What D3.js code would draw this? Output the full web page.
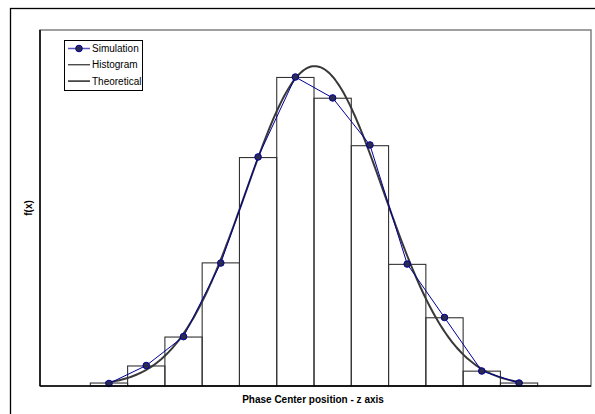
<!DOCTYPE html>
<html>
<head>
<meta charset="utf-8">
<script src="https://cdn.jsdelivr.net/npm/d3@7"></script>
<style>
  body { margin: 0; background: #fff; }
  text { font-family: "Liberation Sans", Arial, sans-serif; }
</style>
</head>
<body>
<div id="chart"></div>
<script>
  // histogram bins (centre of each bin, unit width) and frequencies
  var binCenters = [-5.5, -4.5, -3.5, -2.5, -1.5, -0.5, 0.5, 1.5, 2.5, 3.5, 4.5, 5.5];
  var histValues = [0.002, 0.0135, 0.033, 0.083, 0.154, 0.208, 0.194, 0.162, 0.082, 0.046, 0.010, 0.002];
  var simValues  = [0.0017, 0.0138, 0.0333, 0.0829, 0.1544, 0.2083, 0.1942, 0.1625, 0.0822, 0.0462, 0.0101, 0.0020];
  var theoMean = 0.02, theoSigma = 1.85;
  var legendLabels = ['Simulation', 'Histogram', 'Theoretical'];

  var w = 595, h = 414;
  var margin = {left: 40, top: 30, right: 4, bottom: 28};

  var svg = d3.select('#chart')
    .append('svg')
    .attr('width', w)
    .attr('height', h);

  // outer chart frame (runs off the page on right/bottom)
  svg.append('rect')
    .attr('x', 10.5).attr('y', 8.5)
    .attr('width', 600).attr('height', 420)
    .style('fill', 'none').style('stroke', '#000').style('stroke-width', 1.3);

  var x = d3.scaleLinear().domain([-7.35, 7.43]).range([margin.left, w - margin.right]);
  var y = d3.scaleLinear().domain([0, 0.24]).range([h - margin.bottom, margin.top]);

  // plot area border
  svg.append('rect')
    .attr('x', x.range()[0]).attr('y', y.range()[1])
    .attr('width', x.range()[1] - x.range()[0])
    .attr('height', y.range()[0] - y.range()[1])
    .style('fill', 'none').style('stroke', '#808080').style('stroke-width', 1.5);

  ////////////////////////
  // Histogram
  ////////////////////////
  svg.append('g').selectAll('rect')
    .data(histValues)
    .enter().append('rect')
    .attr('x', function(d, i) { return x(binCenters[i] - 0.5); })
    .attr('y', function(d) { return y(d); })
    .attr('width', function(d, i) { return x(binCenters[i] + 0.5) - x(binCenters[i] - 0.5); })
    .attr('height', function(d) { return y(0) - y(d); })
    .style('fill', 'none')
    .style('stroke', '#333')
    .style('stroke-width', 1.1);

  ////////////////////////
  // Theoretical curve
  ////////////////////////
  var theo = d3.range(-5.6, 5.61, 0.05).map(function(t) {
    var z = (t - theoMean) / theoSigma;
    return [t, Math.exp(-0.5 * z * z) / (theoSigma * Math.sqrt(2 * Math.PI))];
  });
  svg.append('path')
    .datum(theo)
    .attr('d', d3.line().x(function(d) { return x(d[0]); }).y(function(d) { return y(d[1]); }))
    .style('fill', 'none')
    .style('stroke', '#383838')
    .style('stroke-width', 2);

  ////////////////////////
  // Simulation
  ////////////////////////
  svg.append('path')
    .datum(simValues)
    .attr('d', d3.line()
      .x(function(d, i) { return x(binCenters[i]); })
      .y(function(d) { return y(d); }))
    .style('fill', 'none')
    .style('stroke', '#000099')
    .style('stroke-width', 1);

  svg.append('g').selectAll('circle')
    .data(simValues)
    .enter().append('circle')
    .attr('cx', function(d, i) { return x(binCenters[i]); })
    .attr('cy', function(d) { return y(d); })
    .attr('r', 3.3)
    .style('fill', '#2b2b4f')
    .style('stroke', '#000099')
    .style('stroke-width', 1);

  // axes lines
  svg.append('line')
    .attr('x1', x.range()[0]).attr('x2', x.range()[1])
    .attr('y1', y(0)).attr('y2', y(0))
    .style('stroke', '#000').style('stroke-width', 1.5);
  svg.append('line')
    .attr('x1', x.range()[0]).attr('x2', x.range()[0])
    .attr('y1', y.range()[1]).attr('y2', y(0))
    .style('stroke', '#000').style('stroke-width', 1.5);

  // axis titles
  svg.append('text')
    .attr('x', 313).attr('y', 403)
    .attr('text-anchor', 'middle')
    .style('font-size', '10px').style('font-weight', 'bold')
    .text('Phase Center position - z axis');
  svg.append('text')
    .attr('transform', 'translate(32,208) rotate(-90)')
    .attr('text-anchor', 'middle')
    .style('font-size', '10px').style('font-weight', 'bold')
    .text('f(x)');

  ////////////////////////
  // Legend
  ////////////////////////
  var legend = svg.append('g').attr('transform', 'translate(64,40)');
  legend.append('rect')
    .attr('x', 0.5).attr('y', 0.5).attr('width', 78).attr('height', 50)
    .style('fill', '#fff').style('stroke', '#000').style('stroke-width', 1);
  var item = legend.selectAll('g.item')
    .data(legendLabels)
    .enter().append('g')
    .attr('class', 'item')
    .attr('transform', function(d, i) { return 'translate(0,' + (8.5 + i * 16.3) + ')'; });
  item.append('line')
    .attr('x1', 4).attr('x2', 26).attr('y1', 0).attr('y2', 0)
    .style('stroke', function(d, i) { return i == 0 ? '#5555bb' : (i == 1 ? '#000' : '#333'); })
    .style('stroke-width', function(d, i) { return i == 0 ? 1.5 : (i == 1 ? 1 : 1.6); });
  legend.append('circle')
    .attr('cx', 15).attr('cy', 8.5).attr('r', 3.3)
    .style('fill', '#2b2b4f').style('stroke', '#000099');
  item.append('text')
    .attr('x', 28).attr('y', 3.6)
    .style('font-size', '10px')
    .text(function(d) { return d; });
</script>
</body>
</html>
